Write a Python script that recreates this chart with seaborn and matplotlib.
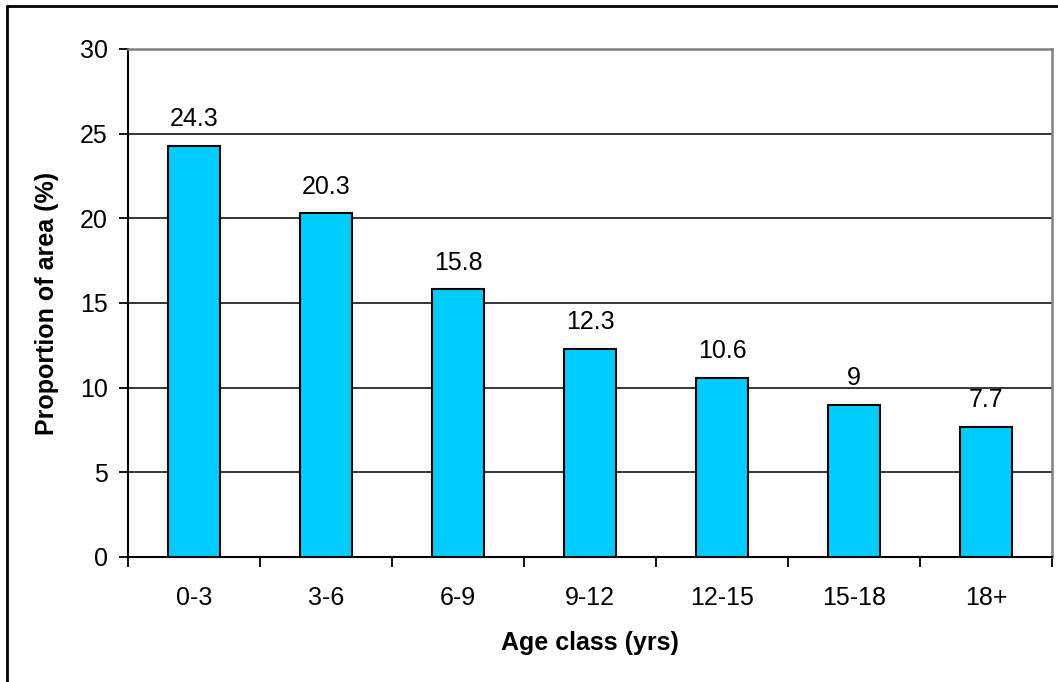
import matplotlib
matplotlib.use("Agg")
import matplotlib.pyplot as plt
from matplotlib.lines import Line2D
import seaborn as sns
import pandas as pd

# Proportion of area by stand age class
age_classes = ["0-3", "3-6", "6-9", "9-12", "12-15", "15-18", "18+"]
proportion = [24.3, 20.3, 15.8, 12.3, 10.6, 9, 7.7]
value_labels = ["24.3", "20.3", "15.8", "12.3", "10.6", "9", "7.7"]
y_ticks = [0, 5, 10, 15, 20, 25, 30]

sns.set_theme(style="white")
plt.rcParams["font.family"] = ["Liberation Sans", "DejaVu Sans"]
plt.rcParams.update({"text.color": "black", "axes.labelcolor": "black",
                     "xtick.color": "black", "ytick.color": "black"})

df = pd.DataFrame({"age": age_classes, "prop": proportion})

fig = plt.figure(figsize=(10.58, 6.82), dpi=100)
ax = fig.add_axes([128 / 1058, 1 - 557 / 682, 924 / 1058, 508 / 682])

sns.barplot(data=df, x="age", y="prop", color="#00CCFF", saturation=1,
            width=0.4, edgecolor="black", linewidth=1.5, ax=ax, zorder=3)

ax.set_xlim(-0.5, len(age_classes) - 0.5)
ax.set_ylim(0, 30)
ax.set_yticks(y_ticks)
ax.set_yticklabels([str(t) for t in y_ticks], fontsize=18)

# horizontal gridlines
for t in y_ticks[1:-1]:
    ax.axhline(t, color="black", linewidth=1.1, zorder=1)

# category ticks sit between bars
ax.set_xticks(range(len(age_classes)))
ax.set_xticklabels(age_classes, fontsize=18)
ax.set_xticks([i - 0.5 for i in range(len(age_classes) + 1)], minor=True)
ax.tick_params(axis="x", which="major", length=0, pad=21)
ax.tick_params(axis="x", which="minor", length=7, width=1.3, color="black",
               direction="out", bottom=True)
ax.tick_params(axis="y", which="major", length=6.5, width=1.3, color="black",
               direction="out", left=True, pad=8)

for side in ["left", "bottom"]:
    ax.spines[side].set_color("black")
    ax.spines[side].set_linewidth(1.5)
for side in ["top", "right"]:
    ax.spines[side].set_visible(True)
    ax.spines[side].set_color("#808080")
    ax.spines[side].set_linewidth(1.8)

# value labels above bars
for i, (v, lab) in enumerate(zip(proportion, value_labels)):
    ax.annotate(lab, xy=(i, v), xytext=(0, 14), textcoords="offset points",
                ha="center", va="baseline", fontsize=18, color="black")

ax.set_xlabel("Age class (yrs)", fontsize=18, fontweight="bold")
ax.set_ylabel("Proportion of area (%)", fontsize=18, fontweight="bold")
ax.xaxis.label.set_va("center")
ax.yaxis.label.set_va("center")
ax.xaxis.set_label_coords(0.5, -(643 - 557) / 508)
ax.yaxis.set_label_coords((47 - 128) / 924, 0.5)

# chart frame
fig.add_artist(Line2D([7 / 1058, 7 / 1058], [0, 1 - 6 / 682],
                      transform=fig.transFigure, color="black", linewidth=2))
fig.add_artist(Line2D([7 / 1058, 1], [1 - 6 / 682, 1 - 6 / 682],
                      transform=fig.transFigure, color="black", linewidth=2))

fig.savefig("out.png", dpi=100)
